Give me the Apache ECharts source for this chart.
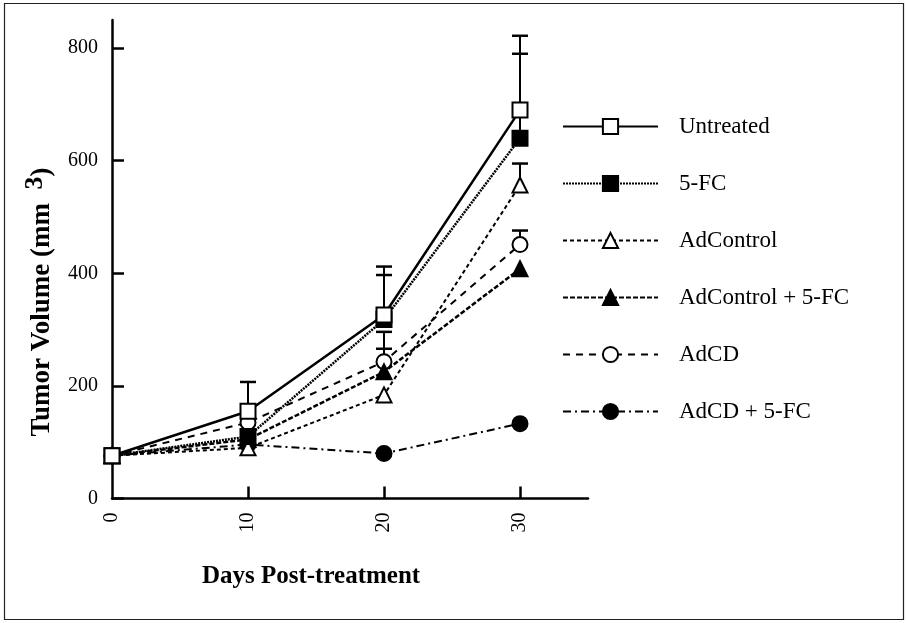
<!DOCTYPE html>
<html>
<head>
<meta charset="utf-8">
<script src="https://cdn.jsdelivr.net/npm/echarts@6/dist/echarts.min.js"></script>
<style>
  html, body { margin: 0; padding: 0; background: #fff; }
  #chart { width: 907px; height: 623px; }
</style>
</head>
<body>
<div id="chart"></div>
<script>
// days and tumor volumes (mm3)
const days = [0, 10, 20, 30]
const untreated = [76, 155, 326, 690]
const fiveFC = [76, 110, 318, 640]
const adControl = [76, 90, 184, 557]
const adControl5FC = [76, 105, 225, 408]
const adCD = [76, 135, 243, 451]
const adCD5FC = [76, 96, 80, 133]

// upper error bars (+SE)
const untreatedErr = [0, 52, 86, 132]
const fiveFCErr = [0, 0, 79, 150]
const adControlErr = [0, 0, 0, 38]
const adControl5FCErr = [0, 0, 41, 0]
const adCDErr = [0, 0, 53, 25]

const yTicks = [0, 200, 400, 600, 800]
const xTicks = [0, 10, 20, 30]

const serif = 'Liberation Serif'

function pairs(vals) {
  return days.map((d, i) => [d, vals[i]])
}

// flatten error bars: [day, low, high]
const errData = []
;[[untreated, untreatedErr], [fiveFC, fiveFCErr], [adControl, adControlErr],
  [adControl5FC, adControl5FCErr], [adCD, adCDErr]].forEach(([v, e]) => {
  days.forEach((d, i) => {
    if (e[i] > 0) errData.push([d, v[i], v[i] + e[i]])
  })
})

const chart = echarts.init(document.getElementById('chart'))

function lineSeries(name, vals, symbol, filled, dash, width, z) {
  return {
    name: name,
    type: 'line',
    data: pairs(vals),
    symbol: symbol,
    symbolSize: 15,
    showSymbol: true,
    z: z,
    lineStyle: { color: '#000', width: width, type: dash },
    itemStyle: {
      color: filled ? '#000' : '#fff',
      borderColor: '#000',
      borderWidth: 2
    },
    emphasis: { disabled: true },
    animation: false
  }
}

chart.setOption({
  backgroundColor: '#fff',
  animation: false,
  grid: { left: 112, right: 319, top: 20, bottom: 124.5 },
  legend: {
    orient: 'vertical',
    left: 557,
    top: 110,
    itemWidth: 95,
    itemHeight: 19,
    itemGap: 34,
    textStyle: { fontFamily: serif, fontSize: 23, color: '#000', padding: [0, 0, 0, 16] },
    data: ['Untreated', '5-FC', 'AdControl', 'AdControl + 5-FC', 'AdCD', 'AdCD + 5-FC']
  },
  xAxis: {
    type: 'value',
    min: 0,
    max: 35,
    splitLine: { show: false },
    axisLine: { lineStyle: { color: '#000', width: 2.5 } },
    axisTick: { inside: true, length: 12, lineStyle: { color: '#000', width: 2.5 }, customValues: [10, 20, 30] },
    axisLabel: { customValues: xTicks, rotate: 90, margin: 14, fontFamily: serif, fontSize: 20, color: '#000' }
  },
  yAxis: {
    type: 'value',
    min: 0,
    max: 850,
    splitLine: { show: false },
    axisLine: { show: true, lineStyle: { color: '#000', width: 2.5 } },
    axisTick: { show: true, inside: true, length: 12, lineStyle: { color: '#000', width: 2.5 }, customValues: yTicks },
    axisLabel: { customValues: yTicks, margin: 14, fontFamily: serif, fontSize: 20, color: '#000' }
  },
  graphic: [
    {
      type: 'rect',
      shape: { x: 4.5, y: 3.5, width: 899, height: 616 },
      style: { fill: 'none', stroke: '#222', lineWidth: 1.2 },
      silent: true
    },
    {
      type: 'text',
      x: 42,
      y: 302,
      rotation: Math.PI / 2,
      style: {
        text: 'Tumor Volume (mm  {sup|3})',
        fontFamily: serif,
        fontWeight: 'bold',
        fontSize: 27,
        fill: '#000',
        align: 'center',
        verticalAlign: 'middle',
        rich: {
          sup: { fontFamily: serif, fontWeight: 'bold', fontSize: 26, padding: [0, 0, 14, 0] }
        }
      }
    },
    {
      type: 'text',
      x: 311,
      y: 577,
      style: {
        text: 'Days Post-treatment',
        fontFamily: serif,
        fontWeight: 'bold',
        fontSize: 25,
        fill: '#000',
        align: 'center',
        verticalAlign: 'middle'
      }
    }
  ],
  series: [
    {
      type: 'custom',
      name: 'err',
      z: 1,
      silent: true,
      animation: false,
      data: errData,
      renderItem: (params, api) => {
        const lo = api.coord([api.value(0), api.value(1)])
        const hi = api.coord([api.value(0), api.value(2)])
        return {
          type: 'group',
          children: [
            { type: 'line', shape: { x1: lo[0], y1: lo[1], x2: hi[0], y2: hi[1] }, style: { stroke: '#000', lineWidth: 2 } },
            { type: 'line', shape: { x1: hi[0] - 8, y1: hi[1], x2: hi[0] + 8, y2: hi[1] }, style: { stroke: '#000', lineWidth: 2.5 } }
          ]
        }
      }
    },
    lineSeries('AdCD + 5-FC', adCD5FC, 'circle', true, [8, 4, 2, 4], 2, 3),
    lineSeries('AdCD', adCD, 'circle', false, [7, 6], 2, 3),
    lineSeries('AdControl + 5-FC', adControl5FC, 'triangle', true, [5, 2], 2.5, 3),
    lineSeries('AdControl', adControl, 'triangle', false, [4, 3], 2, 3),
    lineSeries('5-FC', fiveFC, 'rect', true, [2, 1], 2.5, 4),
    lineSeries('Untreated', untreated, 'rect', false, 'solid', 2.5, 5)
  ]
})
</script>
</body>
</html>
